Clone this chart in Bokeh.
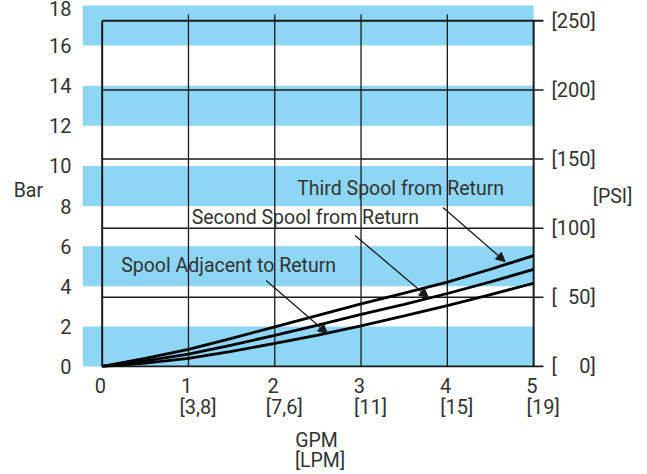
from bokeh.plotting import figure
from bokeh.models import Range1d, LinearAxis, FixedTicker, Arrow, NormalHead
from bokeh.core.properties import value
from bokeh.embed import file_html
from bokeh.resources import INLINE

# ---- data ----
gpm = [0, 0.5, 1, 1.5, 2, 2.5, 3, 3.5, 4, 4.5, 5]
third_spool = [0, 0.40, 0.85, 1.40, 1.98, 2.55, 3.12, 3.66, 4.21, 4.85, 5.53]
second_spool = [0, 0.28, 0.62, 1.07, 1.55, 2.06, 2.60, 3.10, 3.64, 4.22, 4.84]
adjacent_spool = [0, 0.17, 0.40, 0.75, 1.15, 1.57, 2.03, 2.52, 3.04, 3.58, 4.15]

bar_ticks = [0, 2, 4, 6, 8, 10, 12, 14, 16, 18]
psi_ticks = [0, 50, 100, 150, 200, 250]
psi_labels = ["[\u2007\u20070]", "[\u200750]", "[100]", "[150]", "[200]", "[250]"]
gpm_ticks = [0, 1, 2, 3, 4, 5]
FSP = "\u2007"
gpm_labels = ["0" + FSP * 2, "1" + FSP * 2 + "\n[3,8]", "2" + FSP * 2 + "\n[7,6]",
              "3" + FSP * 2 + "\n[11]", "4" + FSP * 2 + "\n[15]", "5" + FSP * 2 + "\n[19]"]
x_title = "\u2009GPM\n" + FSP + "[LPM]"
band_bottom = [0, 4, 8, 12, 16]
band_top = [2, 6, 10, 14, 18]
grid_gpm = [1, 2, 3, 4]

curve_names = ["Third Spool from Return", "Second Spool from Return", "Spool Adjacent to Return"]
name_x = [2.26, 1.037, 0.22]
name_y = [8.87, 7.41, 5.05]
arrow_x0 = [3.95, 2.93, 1.90]
arrow_y0 = [7.93, 6.53, 4.29]
arrow_x1 = [4.67, 3.78, 2.61]
arrow_y1 = [5.23, 3.44, 1.65]

PSI_PER_BAR = 14.5038
psi_lines_bar = [v / PSI_PER_BAR for v in psi_ticks]
top_bar = psi_ticks[-1] / PSI_PER_BAR
TICK_END = 5.114   # psi lines run past the right frame as ticks

FONT = "Roboto"
FS = "19.5px"
TFS = "20px"
TXT = "#333333"
BLUE = "#8dd6f5"
LINE = "#1a1a1a"

X0, X1 = -0.228, 5.149
Y0, Y1 = -0.05, 18.25
FW = 464

p = figure(frame_width=FW, frame_height=367,
           x_range=Range1d(X0, X1), y_range=Range1d(Y0, Y1),
           output_backend="svg", toolbar_location=None,
           min_border_left=82, min_border_right=101, min_border_top=0, min_border_bottom=107,
           outline_line_color=None)
p.grid.visible = False
p.xaxis.visible = False

has_orient = "axis_label_orientation" in LinearAxis.properties()

# left axis (Bar)
yax = p.yaxis[0]
yax.ticker = FixedTicker(ticks=bar_ticks)
yax.major_tick_line_color = None
yax.minor_tick_line_color = None
yax.axis_line_color = None
yax.major_label_standoff = 5
yax.major_label_text_font = FONT
yax.major_label_text_font_size = TFS
yax.major_label_text_color = TXT
yax.axis_label = "\nBar"
yax.axis_label_text_font = FONT
yax.axis_label_text_font_size = FS
yax.axis_label_text_font_style = "normal"
yax.axis_label_text_color = TXT
yax.axis_label_text_line_height = 0.6
yax.axis_label_standoff = 3
if has_orient:
    yax.axis_label_orientation = "horizontal"

# right PSI axis (its tick marks are the extended psi lines)
p.extra_y_ranges = {"psi": Range1d(Y0 * PSI_PER_BAR, Y1 * PSI_PER_BAR)}
rax = LinearAxis(y_range_name="psi", ticker=FixedTicker(ticks=psi_ticks),
                 major_label_overrides=dict(zip(psi_ticks, psi_labels)),
                 major_tick_out=0, major_tick_in=0, major_tick_line_color=None,
                 minor_tick_line_color=None,
                 axis_line_color=None, major_label_standoff=5,
                 major_label_text_font=FONT, major_label_text_font_size=TFS,
                 major_label_text_color=TXT,
                 axis_label="\n[PSI]", axis_label_text_font=FONT, axis_label_text_font_size=FS,
                 axis_label_text_font_style="normal", axis_label_text_color=TXT,
                 axis_label_text_line_height=1.1, axis_label_standoff=-6)
if has_orient:
    rax.axis_label_orientation = "horizontal"
p.add_layout(rax, "right")

# bottom GPM / LPM axis, on a range shifted so each label block starts just left of its grid line
shift = -9.5 / (FW / (X1 - X0))
p.extra_x_ranges = {"lbl": Range1d(X0 + shift, X1 + shift)}
xax = LinearAxis(x_range_name="lbl", ticker=FixedTicker(ticks=gpm_ticks),
                 major_label_overrides=dict(zip(gpm_ticks, gpm_labels)),
                 major_tick_line_color=None, minor_tick_line_color=None, axis_line_color=None,
                 major_label_standoff=0,
                 major_label_text_line_height=0.9,
                 major_label_text_font=FONT, major_label_text_font_size=TFS,
                 major_label_text_color=TXT,
                 axis_label=x_title, axis_label_text_font=FONT, axis_label_text_font_size=FS,
                 axis_label_text_font_style="normal", axis_label_text_color=TXT,
                 axis_label_text_line_height=0.88, axis_label_standoff=7)
p.add_layout(xax, "below")

# blue bands
p.quad(left=X0, right=5, bottom=band_bottom, top=band_top,
       fill_color=BLUE, line_color=None)

# vertical grid lines
p.segment(x0=grid_gpm, y0=0, x1=grid_gpm, y1=17.55, line_color=LINE, line_width=1.3)
# horizontal psi lines (extending past the frame as tick marks)
p.segment(x0=0, y0=psi_lines_bar[1:-1], x1=TICK_END, y1=psi_lines_bar[1:-1],
          line_color=LINE, line_width=1.5)
p.segment(x0=[0, 0], y0=[0, top_bar], x1=[TICK_END, TICK_END], y1=[0, top_bar],
          line_color=LINE, line_width=2)
# frame sides
p.segment(x0=[0, 5], y0=[0, 0], x1=[0, 5], y1=[top_bar, top_bar],
          line_color=LINE, line_width=2)

# curves
for ys in (third_spool, second_spool, adjacent_spool):
    p.line(gpm, ys, line_color="black", line_width=2.8)

# curve names
p.text(x=name_x, y=name_y, text=curve_names, text_font=value(FONT),
       text_font_size=FS, text_color=TXT, text_align="left", text_baseline="alphabetic")

for i in range(3):
    p.add_layout(Arrow(end=NormalHead(size=9, fill_color=LINE, line_color=LINE, line_width=1),
                       x_start=arrow_x0[i], y_start=arrow_y0[i],
                       x_end=arrow_x1[i], y_end=arrow_y1[i],
                       line_color=LINE, line_width=1.3))

open("out.html", "w").write(file_html(p, INLINE))
